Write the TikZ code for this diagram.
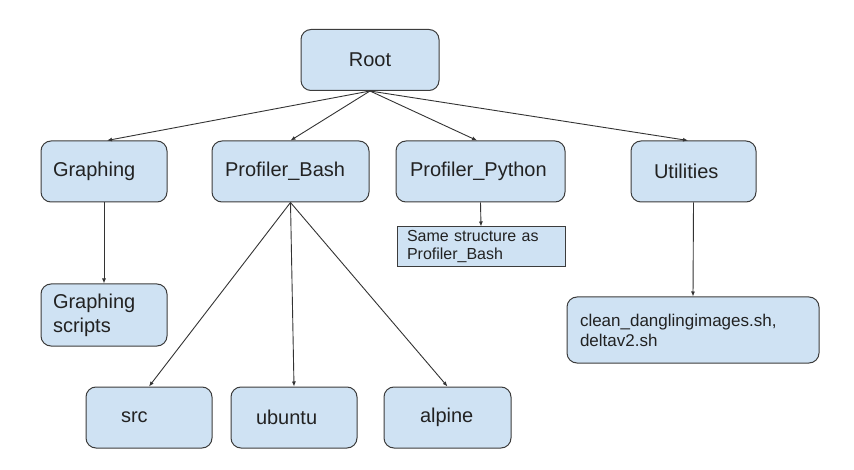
\documentclass[tikz,border=0pt]{standalone}
\usepackage{fontspec}
\setmainfont{Liberation Sans}
\usepackage{xcolor}
\usetikzlibrary{arrows.meta}

\definecolor{boxfill}{HTML}{CFE2F3}
\definecolor{boxline}{HTML}{3C3C3C}
\definecolor{txt}{HTML}{222222}
\definecolor{linecol}{HTML}{333333}

\begin{document}
\begin{tikzpicture}[x=1pt, y=-1pt,
        box/.style={rectangle, draw=boxline, fill=boxfill, rounded corners=10pt, line width=1pt, text=txt, align=left, inner ysep=2pt, minimum height=61pt, font=\fontsize{20}{24}\selectfont},
        note/.style={rectangle, draw=boxline, fill=boxfill, line width=1pt, text=txt, align=left, inner ysep=1pt, minimum height=40pt, font=\fontsize{16}{18}\selectfont},
        link/.style={draw=linecol, line width=0.9pt, -{Latex[length=5pt, width=4pt]}}]
        \useasboundingbox (0,0) rectangle (854,470);

        \node[box, text width=114pt, inner xsep=12pt, align=center] (root) at (370,60) {Root};
        \node[box, text width=102pt, inner xsep=12pt] (graphing) at (104,171.5) {Graphing};
        \node[box, text width=131pt, inner xsep=13pt] (bash) at (290.5,171.5) {Profiler\_Bash};
        \node[box, text width=141pt, inner xsep=14pt] (python) at (480.5,171.5) {Profiler\_Python};
        \node[box, text width=79pt, inner xsep=23pt] (utilities) at (693.5,171.5) {Utilities};
        \node[note, text width=148pt, inner xsep=10pt] (same) at (481,247) {Same structure as\\Profiler\_Bash};
        \node[box, text width=102pt, inner xsep=12pt, minimum height=62pt] (scripts) at (104,315) {Graphing\\scripts};
        \node[box, text width=226pt, inner xsep=13pt, minimum height=66pt, font=\fontsize{17}{20}\selectfont] (clean) at (693,330) {clean\_danglingimages.sh,\\deltav2.sh};
        \node[box, text width=56pt, inner xsep=35pt] (src) at (149,417.5) {src};
        \node[box, text width=76pt, inner xsep=25pt] (ubuntu) at (294,417.5) {ubuntu};
        \node[box, text width=55pt, inner xsep=36pt] (alpine) at (447.5,417.5) {alpine};

        \draw[link] (root.south) to ([xshift=3pt]graphing.north);
        \draw[link] (root.south) to (bash.north);
        \draw[link] (root.south) to ([xshift=-3.5pt]python.north);
        \draw[link] (root.south) to ([xshift=-5.5pt]utilities.north);
        \draw[link] (graphing.south) to (scripts.north);
        \draw[link] (bash.south) to (src.north);
        \draw[link] (bash.south) to (ubuntu.north);
        \draw[link] (bash.south) to (alpine.north);
        \draw[link] (python.south) to (same.north);
        \draw[link] (utilities.south) to (clean.north);
    \end{tikzpicture}
\end{document}
